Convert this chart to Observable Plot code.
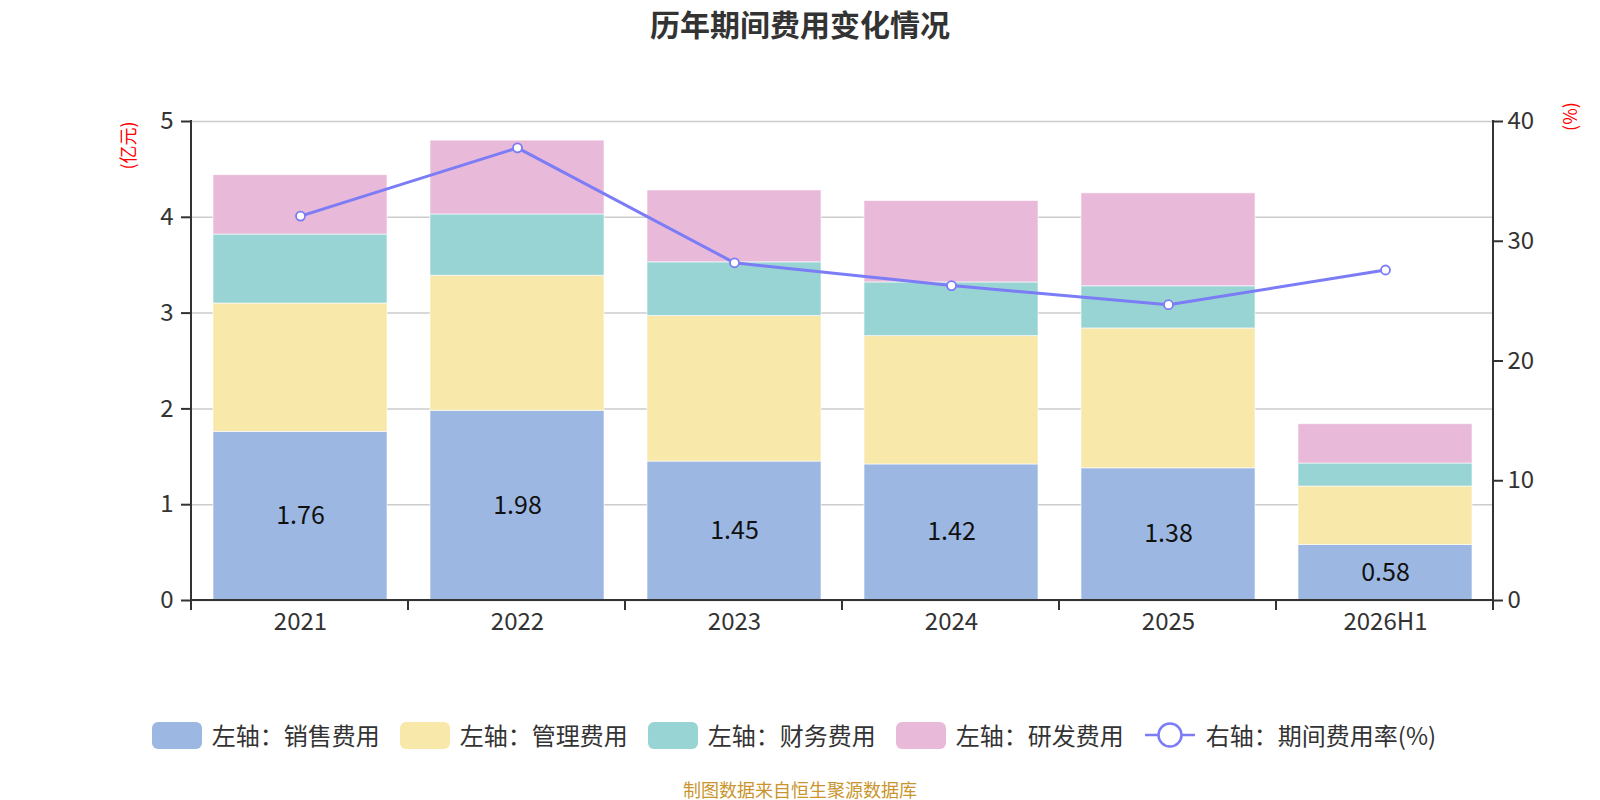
<!DOCTYPE html>
<html>
<head>
<meta charset="utf-8">
<script src="https://cdn.jsdelivr.net/npm/d3@7"></script>
<script src="https://cdn.jsdelivr.net/npm/@observablehq/plot@0.6"></script>
<style>
  html, body { margin: 0; padding: 0; background: #fff; }
  body { width: 1600px; height: 800px; overflow: hidden; position: relative;
         font-family: "Noto Sans CJK SC", "Noto Sans", sans-serif; }
  #title { position: absolute; top: 0; left: 0; width: 1600px; height: 47px; line-height: 47px;
           text-align: center; font-size: 30px; font-weight: bold; color: #333; }
  #chart { position: absolute; top: 47px; left: 0; }
  #legend { position: absolute; top: 721px; left: -6px; width: 1600px; height: 28px;
            display: flex; justify-content: center; align-items: center; }
  .item { display: flex; align-items: center; margin: 0 10px; }
  .sw { width: 50px; height: 27px; border-radius: 6px; margin-right: 10px; }
  .lbl { font-size: 24px; color: #333; line-height: 28px; white-space: nowrap; }
  #caption { position: absolute; top: 778px; left: 0; width: 1600px; height: 22px; line-height: 22px;
             text-align: center; font-size: 18px; color: #c9952c; }
</style>
</head>
<body>
<div id="title"></div>
<div id="chart"></div>
<div id="legend"></div>
<div id="caption"></div>
<script>
// ---- data ----
const titleText = "历年期间费用变化情况";
const captionText = "制图数据来自恒生聚源数据库";
const years = ["2021", "2022", "2023", "2024", "2025", "2026H1"];
const sales   = [1.76, 1.98, 1.45, 1.42, 1.38, 0.58];
const admin   = [1.34, 1.41, 1.52, 1.34, 1.46, 0.61];
const finance = [0.72, 0.64, 0.56, 0.56, 0.44, 0.24];
const rnd     = [0.62, 0.77, 0.75, 0.85, 0.97, 0.41];
const rate    = [32.1, 37.8, 28.2, 26.3, 24.7, 27.6];
const seriesNames = ["左轴：销售费用", "左轴：管理费用", "左轴：财务费用", "左轴：研发费用"];
const lineName = "右轴：期间费用率(%)";
const seriesColors = ["#9cb8e2", "#f8e8aa", "#98d4d4", "#e8b9d8"];
const lineColor = "#7b7cf6";
const leftTicks = [0, 1, 2, 3, 4, 5];
const rightTicks = [0, 10, 20, 30, 40];
const leftUnit = "(亿元)";
const rightUnit = "(%)";

// ---- derived tables ----
const seriesArrays = [sales, admin, finance, rnd];
const long = years.flatMap((y, i) => seriesArrays.map((arr, k) => ({year: y, series: seriesNames[k], value: arr[i]})));
const rateData = years.map((y, i) => ({year: y, rate: rate[i]}));
const salesData = years.map((y, i) => ({year: y, value: sales[i]}));
const leftMax = leftTicks[leftTicks.length - 1];
const rightMax = rightTicks[rightTicks.length - 1];
const k = leftMax / rightMax;

document.getElementById("title").textContent = titleText;
document.getElementById("caption").textContent = captionText;

const font = '"Noto Sans CJK SC", "Noto Sans", sans-serif';

// axis lines + category boundary ticks
const axisFrame = (index, scales, values, dims) => {
  const {width, height, marginLeft, marginRight, marginTop, marginBottom} = dims;
  const g = d3.create("svg:g").attr("stroke", "#333").attr("stroke-width", 2);
  const y0 = height - marginBottom;
  const step = (width - marginLeft - marginRight) / years.length;
  g.append("line").attr("x1", marginLeft).attr("x2", width - marginRight).attr("y1", y0).attr("y2", y0);
  g.append("line").attr("x1", marginLeft).attr("x2", marginLeft).attr("y1", marginTop - 1).attr("y2", y0);
  g.append("line").attr("x1", width - marginRight).attr("x2", width - marginRight).attr("y1", marginTop - 1).attr("y2", y0);
  for (let i = 0; i <= years.length; i++) {
    const x = marginLeft + i * step;
    g.append("line").attr("x1", x).attr("x2", x).attr("y1", y0).attr("y2", y0 + 10);
  }
  return g.node();
};

const chart = Plot.plot({
  width: 1600,
  height: 613,
  marginLeft: 191,
  marginRight: 107,
  marginTop: 74,
  marginBottom: 60,
  style: {fontFamily: font, fontSize: "24px", color: "#333", background: "transparent", overflow: "visible"},
  x: {domain: years, paddingInner: 0.2, paddingOuter: 0.1, label: null},
  y: {domain: [0, leftMax], label: null},
  color: {domain: seriesNames, range: seriesColors},
  marks: [
    Plot.ruleY(leftTicks, {stroke: "#cccccc", strokeWidth: 1.5}),
    Plot.barY(long, {x: "year", y: "value", fill: "series", stroke: "#fff", strokeOpacity: 0.6, strokeWidth: 1}),
    axisFrame,
    Plot.axisX({tickSize: 0, tickPadding: 12, fontSize: 24, fill: "#333", label: null}),
    Plot.axisY(leftTicks, {anchor: "left", tickSize: 10, tickPadding: 8, fontSize: 24, stroke: "#333", strokeWidth: 2, fill: "#333", tickFormat: d => String(d), label: null}),
    Plot.axisY(rightTicks.map(d => d * k), {anchor: "right", tickSize: 9, tickPadding: 5, fontSize: 24, stroke: "#333", strokeWidth: 2, fill: "#333", tickFormat: d => String(Math.round(d / k)), label: null}),
    Plot.line(rateData, {x: "year", y: d => d.rate * k, stroke: lineColor, strokeWidth: 3}),
    Plot.dot(rateData, {x: "year", y: d => d.rate * k, r: 4.5, fill: "#fff", stroke: lineColor, strokeWidth: 1.8}),
    Plot.text(salesData, {x: "year", y: d => d.value / 2, text: d => d.value.toFixed(2), fontSize: 25, fill: "#111"}),
    Plot.text([leftUnit], {frameAnchor: "top-left", textAnchor: "middle", lineAnchor: "middle", dx: -62, dy: 24, rotate: -90, fill: "#ff0000", fontSize: 18}),
    Plot.text([rightUnit], {frameAnchor: "top-right", textAnchor: "middle", lineAnchor: "middle", dx: 78, dy: -5, rotate: -90, fill: "#ff0000", fontSize: 18})
  ]
});
document.getElementById("chart").appendChild(chart);

// legend
const legend = document.getElementById("legend");
seriesNames.forEach((name, i) => {
  const it = document.createElement("div");
  it.className = "item";
  it.innerHTML = `<div class="sw" style="background:${seriesColors[i]}"></div><span class="lbl">${name}</span>`;
  legend.appendChild(it);
});
const li = document.createElement("div");
li.className = "item";
li.innerHTML = `<svg width="52" height="28" style="margin-right:10px"><line x1="1" x2="51" y1="14" y2="14" stroke="${lineColor}" stroke-width="2.5"/><circle cx="26" cy="14" r="11.5" fill="#fff" stroke="${lineColor}" stroke-width="2.5"/></svg><span class="lbl">${lineName}</span>`;
legend.appendChild(li);
</script>
</body>
</html>
